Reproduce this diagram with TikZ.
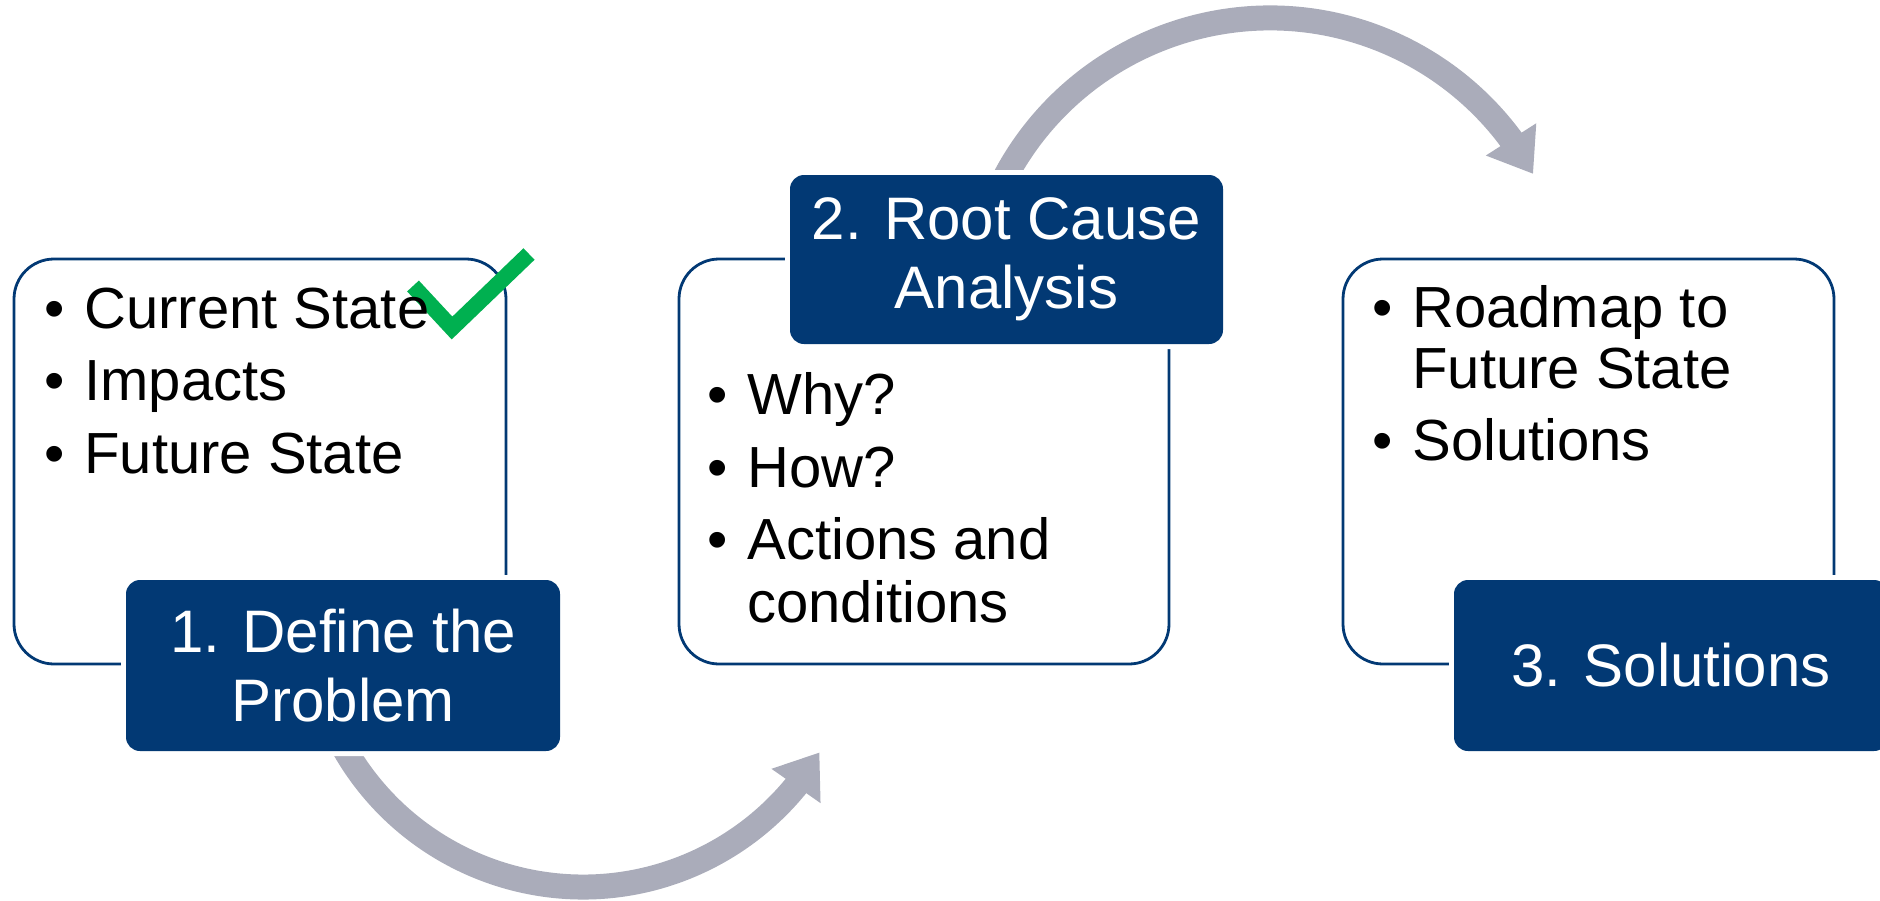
\documentclass[tikz,border=0pt]{standalone}
\usepackage{fontspec}
\setmainfont{Liberation Sans}
\usepackage{tikz}
\usetikzlibrary{arrows.meta,bending}

\definecolor{navy}{RGB}{2,57,116}
\definecolor{arcgray}{RGB}{170,172,186}
\definecolor{tickgreen}{RGB}{0,176,80}

\newcommand{\bul}{\makebox[20pt][l]{\textbullet}}
\newcommand{\nobul}{\makebox[20pt][l]{}}

\begin{document}
\begin{tikzpicture}[x=0.5pt,y=0.5pt,yscale=-1,xscale=1,
  outbox/.style={draw=navy, line width=1.4pt, rounded corners=20pt, fill=white, inner sep=0pt},
  lbl/.style={fill=navy, preaction={draw=white, line width=5pt}, rounded corners=7pt, text=white, align=center, inner sep=0pt, font=\fontsize{30}{34.5}\selectfont},
  item/.style={anchor=base west, inner sep=0pt, font=\fontsize{29}{35}\selectfont},
  flow/.style={draw=arcgray, line width=12.5pt, -{Triangle[length=20.5pt, width=28.5pt]}},
  tick/.style={draw=tickgreen, line width=8pt}]
\useasboundingbox (0,0) rectangle (1880,900); %picture is 1880 x 900

%Shape: Rounded Rect [id:box1]
\node (box1) [outbox, minimum width=246pt, minimum height=202.5pt] at (260,461.5) {};
%Shape: Rounded Rect [id:box2]
\node (box2) [outbox, minimum width=245pt, minimum height=202.5pt] at (924,461.5) {};
%Shape: Rounded Rect [id:box3]
\node (box3) [outbox, minimum width=245.5pt, minimum height=202.5pt] at (1588.5,461.5) {};

%Straight Lines [id:check]
\draw [tick] (413,286) -- (452,328) -- (529,254) ;

%Curve Lines [id:flow1]
\coordinate (a1s) at (333.8,728.2);
\draw [flow] (a1s) arc[start angle=155, end angle=30.7, radius=275] ;
%Curve Lines [id:flow2]
\coordinate (a2s) at (998.1,191.2);
\draw [flow] (a2s) arc[start angle=-155, end angle=-28.7, radius=300] ;

%Shape: Rounded Rect [id:lab1]
\node (lab1) [lbl, minimum width=217pt, minimum height=85.5pt] at (343,665.5) {1. Define the\\Problem};
%Shape: Rounded Rect [id:lab2]
\node (lab2) [lbl, minimum width=216.5pt, minimum height=84.5pt] at (1006.5,259.5) {2. Root Cause\\Analysis};
%Shape: Rounded Rect [id:lab3]
\node (lab3) [lbl, minimum width=217pt, minimum height=85.5pt] at (1671,665.5) {3. Solutions};

% Text Node
\node (t11) [item] at (44,328) {\bul Current State};
% Text Node
\node (t12) [item] at (44,400) {\bul Impacts};
% Text Node
\node (t13) [item] at (44,473) {\bul Future State};

% Text Node
\node (t21) [item] at (707,414) {\bul Why?};
% Text Node
\node (t22) [item] at (707,487) {\bul How?};
% Text Node
\node (t23) [item] at (707,559) {\bul Actions and};
% Text Node
\node (t24) [item] at (707,622) {\nobul conditions};

% Text Node
\node (t31) [item] at (1372,327) {\bul Roadmap to};
% Text Node
\node (t32) [item] at (1372,388) {\nobul Future State};
% Text Node
\node (t33) [item] at (1372,460) {\bul Solutions};
\end{tikzpicture}
\end{document}
